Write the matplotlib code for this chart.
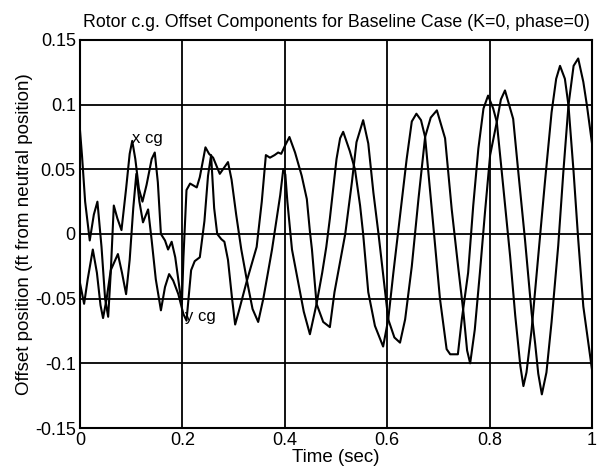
import numpy as np
import matplotlib
matplotlib.use("Agg")
import matplotlib.pyplot as plt

plt.rcParams['font.family'] = ['Liberation Sans', 'DejaVu Sans']

# x cg trace
t_xcg = [0.000, 0.004, 0.010, 0.019, 0.027, 0.034, 0.042, 0.049, 0.055, 0.060,
         0.066, 0.073, 0.081, 0.090, 0.097, 0.102, 0.108, 0.115, 0.122, 0.130,
         0.140, 0.146, 0.152, 0.158, 0.166, 0.172, 0.179, 0.186, 0.195, 0.199,
         0.202, 0.208, 0.215, 0.228, 0.234, 0.245, 0.252, 0.260, 0.273, 0.289,
         0.296, 0.305, 0.315, 0.326, 0.337, 0.348, 0.358, 0.367, 0.375, 0.391,
         0.397, 0.401, 0.405, 0.414, 0.425, 0.437, 0.449, 0.462, 0.473, 0.481,
         0.488, 0.501, 0.508, 0.514, 0.527, 0.537, 0.547, 0.553, 0.563, 0.576,
         0.592, 0.602, 0.612, 0.625, 0.638, 0.648, 0.657, 0.666, 0.674, 0.690,
         0.703, 0.716, 0.723, 0.738, 0.746, 0.758, 0.768, 0.778, 0.788, 0.797,
         0.807, 0.814, 0.827, 0.840, 0.850, 0.860, 0.866, 0.872, 0.882, 0.895,
         0.908, 0.921, 0.930, 0.9375, 0.947, 0.954, 0.964, 0.973, 0.983, 1.000]
xcg = [0.080, 0.060, 0.025, -0.005, 0.015, 0.025, -0.010, -0.050, -0.064, -0.030,
       0.022, 0.012, 0.003, 0.035, 0.062, 0.072, 0.058, 0.035, 0.025, 0.038,
       0.058, 0.063, 0.040, 0.000, -0.005, -0.012, -0.006, -0.018, -0.044, -0.054,
       -0.018, 0.034, 0.039, 0.036, 0.044, 0.067, 0.062, 0.059, 0.0465, 0.0556,
       0.042, 0.015, -0.012, -0.036, -0.058, -0.068, -0.050, -0.030, -0.012, 0.030,
       0.050, 0.046, 0.025, -0.012, -0.035, -0.060, -0.0775, -0.054, -0.030, -0.010,
       0.012, 0.058, 0.074, 0.079, 0.064, 0.050, 0.022, 0.000, -0.045, -0.071,
       -0.087, -0.066, -0.030, 0.014, 0.058, 0.087, 0.093, 0.088, 0.075, 0.0065,
       -0.050, -0.089, -0.093, -0.093, -0.065, -0.030, 0.022, 0.066, 0.097, 0.107,
       0.097, 0.0866, 0.035, -0.017, -0.063, -0.102, -0.1176, -0.107, -0.074, -0.017,
       0.040, 0.094, 0.120, 0.130, 0.120, 0.0995, 0.048, -0.004, -0.056, -0.105]

# y cg trace
t_ycg = [0.000, 0.008, 0.015, 0.025, 0.033, 0.040, 0.045, 0.052, 0.060, 0.074,
         0.082, 0.090, 0.097, 0.104, 0.110, 0.116, 0.123, 0.133, 0.140, 0.148,
         0.158, 0.166, 0.174, 0.182, 0.192, 0.202, 0.208, 0.217, 0.224, 0.234,
         0.243, 0.250, 0.256, 0.262, 0.268, 0.276, 0.282, 0.289, 0.297, 0.303,
         0.310, 0.318, 0.326, 0.345, 0.355, 0.363, 0.371, 0.380, 0.387, 0.393,
         0.400, 0.409, 0.420, 0.433, 0.443, 0.449, 0.453, 0.462, 0.475, 0.488,
         0.497, 0.518, 0.531, 0.540, 0.553, 0.563, 0.573, 0.583, 0.596, 0.602,
         0.614, 0.625, 0.635, 0.648, 0.661, 0.674, 0.685, 0.697, 0.713, 0.726,
         0.739, 0.749, 0.756, 0.762, 0.771, 0.781, 0.791, 0.801, 0.814, 0.822,
         0.830, 0.846, 0.856, 0.869, 0.882, 0.889, 0.895, 0.902, 0.911, 0.921,
         0.934, 0.944, 0.954, 0.964, 0.973, 0.983, 0.990, 1.000]
ycg = [-0.038, -0.054, -0.035, -0.012, -0.030, -0.055, -0.065, -0.050, -0.028, -0.0155,
       -0.030, -0.0465, -0.020, 0.020, 0.0465, 0.025, 0.009, 0.019, -0.005, -0.035,
       -0.059, -0.041, -0.031, -0.036, -0.0465, -0.062, -0.067, -0.028, -0.021, -0.018,
       0.010, 0.045, 0.061, 0.020, 0.000, -0.004, -0.006, -0.020, -0.050, -0.070,
       -0.060, -0.048, -0.036, -0.010, 0.025, 0.061, 0.059, 0.061, 0.063, 0.062,
       0.068, 0.075, 0.063, 0.045, 0.027, 0.002, -0.012, -0.054, -0.068, -0.072,
       -0.045, 0.000, 0.040, 0.071, 0.088, 0.070, 0.032, 0.000, -0.045, -0.066,
       -0.080, -0.084, -0.066, -0.025, 0.027, 0.075, 0.090, 0.0956, 0.074, 0.019,
       -0.027, -0.061, -0.090, -0.100, -0.074, -0.030, 0.017, 0.061, 0.0866, 0.104,
       0.111, 0.089, 0.048, -0.004, -0.061, -0.085, -0.108, -0.124, -0.107, -0.068,
       -0.009, 0.048, 0.0995, 0.130, 0.1357, 0.1176, 0.0995, 0.070]

x_ticks = [0, 0.2, 0.4, 0.6, 0.8, 1]
x_labels = ['0', '0.2', '0.4', '0.6', '0.8', '1']
y_ticks = [-0.15, -0.1, -0.05, 0, 0.05, 0.1, 0.15]
y_labels = ['-0.15', '-0.1', '-0.05', '0', '0.05', '0.1', '0.15']

fig = plt.figure(figsize=(5.98, 4.72), dpi=100)
ax = fig.add_axes([0.1338, 0.0932, 0.8562, 0.8221])

ax.plot(t_xcg, xcg, color='black', lw=1.5)
ax.plot(t_ycg, ycg, color='black', lw=1.5)

ax.set_xlim(0, 1)
ax.set_ylim(-0.15, 0.15)
ax.set_xticks(x_ticks)
ax.set_xticklabels(x_labels)
ax.set_yticks(y_ticks)
ax.set_yticklabels(y_labels)
ax.grid(True, color='black', lw=1.3, ls='-')
ax.tick_params(direction='in', length=0, labelsize=13, pad=3)
for s in ax.spines.values():
    s.set_linewidth(1.5)

ax.text(0.101, 0.074, 'x cg', fontsize=12, va='center', ha='left')
ax.text(0.205, -0.064, 'y cg', fontsize=12, va='center', ha='left')

ax.set_title('Rotor c.g. Offset Components for Baseline Case (K=0, phase=0)',
             fontsize=12.8, pad=9)
ax.set_xlabel('Time (sec)', fontsize=13.5, labelpad=0)
ax.set_ylabel('Offset position (ft from neutral position)', fontsize=13.5, labelpad=1)

fig.savefig('out.png', dpi=100)
